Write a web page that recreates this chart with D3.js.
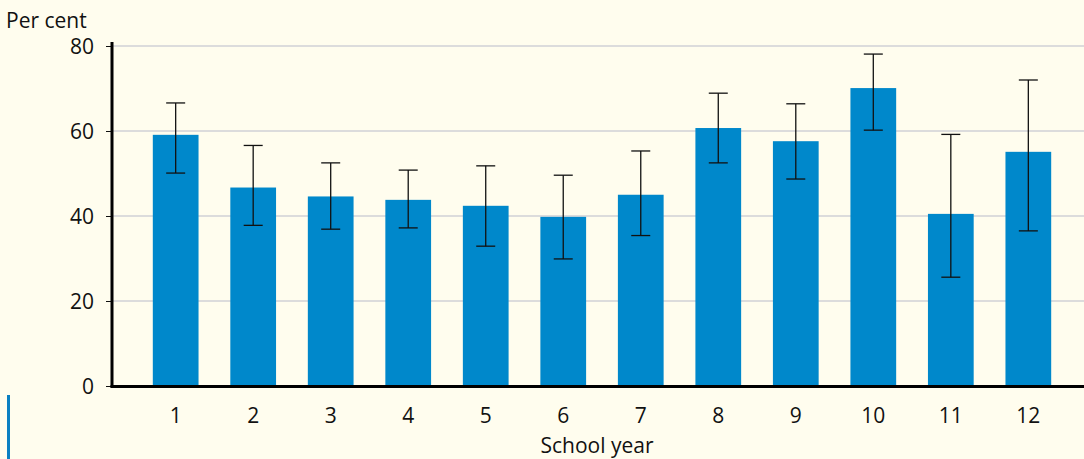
<html>
<head>
<script src="https://cdn.jsdelivr.net/npm/d3@7"></script>
<style>
  body { margin: 0; background: #fffdee; }
  text { font-family: "Open Sans", sans-serif; fill: #111; }
</style>
</head>
<body>
<script>
// school year categories and survey values (per cent)
var years = ["1","2","3","4","5","6","7","8","9","10","11","12"];
var values = [59.1, 46.7, 44.6, 43.8, 42.4, 39.8, 45.0, 60.7, 57.6, 70.1, 40.5, 55.1];
var errLow = [50.1, 37.8, 36.9, 37.2, 32.9, 29.9, 35.4, 52.5, 48.7, 60.2, 25.6, 36.5];
var errHigh = [66.6, 56.6, 52.5, 50.8, 51.8, 49.6, 55.3, 68.9, 66.4, 78.1, 59.2, 72.0];
var yTicks = [0, 20, 40, 60, 80];

var W = 1084, H = 459;
var svg = d3.select("body").append("svg").attr("width", W).attr("height", H);
svg.append("rect").attr("width", W).attr("height", H).attr("fill", "#fffdee");

var y = d3.scaleLinear().domain([0, 80]).range([386, 46]);
var x = d3.scaleBand().domain(years).range([137.3, 1066.7]).paddingInner(0.41).paddingOuter(0.2);

// gridlines
svg.selectAll(".grid").data(yTicks.slice(1)).enter().append("line")
  .attr("x1", 112).attr("x2", W)
  .attr("y1", function(d) { return y(d); }).attr("y2", function(d) { return y(d); })
  .attr("stroke", "#dcdcdc").attr("stroke-width", 2);

// bars
svg.selectAll(".bar").data(values).enter().append("rect")
  .attr("x", function(d, i) { return x(years[i]); })
  .attr("width", x.bandwidth())
  .attr("y", function(d) { return y(d); })
  .attr("height", function(d) { return y(0) - y(d); })
  .attr("fill", "#0088cb");

// error bars
var eb = svg.selectAll(".err").data(years).enter().append("g")
  .attr("transform", function(d) { return "translate(" + (x(d) + x.bandwidth() / 2) + ",0)"; });
eb.append("line").attr("y1", function(d, i) { return y(errLow[i]); }).attr("y2", function(d, i) { return y(errHigh[i]); })
  .attr("stroke", "#111").attr("stroke-width", 1.3);
eb.append("line").attr("x1", -9.5).attr("x2", 9.5)
  .attr("y1", function(d, i) { return y(errHigh[i]); }).attr("y2", function(d, i) { return y(errHigh[i]); })
  .attr("stroke", "#111").attr("stroke-width", 1.3);
eb.append("line").attr("x1", -9.5).attr("x2", 9.5)
  .attr("y1", function(d, i) { return y(errLow[i]); }).attr("y2", function(d, i) { return y(errLow[i]); })
  .attr("stroke", "#111").attr("stroke-width", 1.3);

// y axis
var yAxis = svg.append("g").attr("transform", "translate(112,0)")
  .call(d3.axisLeft(y).tickValues(yTicks).tickSize(6).tickPadding(12));
yAxis.select(".domain").remove();
yAxis.selectAll("line").attr("stroke", "#111").attr("stroke-width", 1);
yAxis.selectAll("text").style("font-size", "21px").attr("dy", "0.35em");
svg.append("line").attr("x1", 112).attr("x2", 112).attr("y1", 42).attr("y2", 387.5)
  .attr("stroke", "#000").attr("stroke-width", 3);

// x axis
var xAxis = svg.append("g").attr("transform", "translate(0,386)")
  .call(d3.axisBottom(x).tickSize(0).tickPadding(22));
xAxis.select(".domain").remove();
xAxis.selectAll("text").style("font-size", "21px");
svg.append("line").attr("x1", 110.5).attr("x2", W).attr("y1", 386.5).attr("y2", 386.5)
  .attr("stroke", "#000").attr("stroke-width", 3);

// titles
svg.append("text").attr("x", 6).attr("y", 28).style("font-size", "21px").text("Per cent");
svg.append("text").attr("x", 597).attr("y", 453).attr("text-anchor", "middle")
  .style("font-size", "21px").text("School year");

// left marker bar
svg.append("line").attr("x1", 8.5).attr("x2", 8.5).attr("y1", 395).attr("y2", H)
  .attr("stroke", "#0a80c2").attr("stroke-width", 3);
</script>
</body>
</html>
